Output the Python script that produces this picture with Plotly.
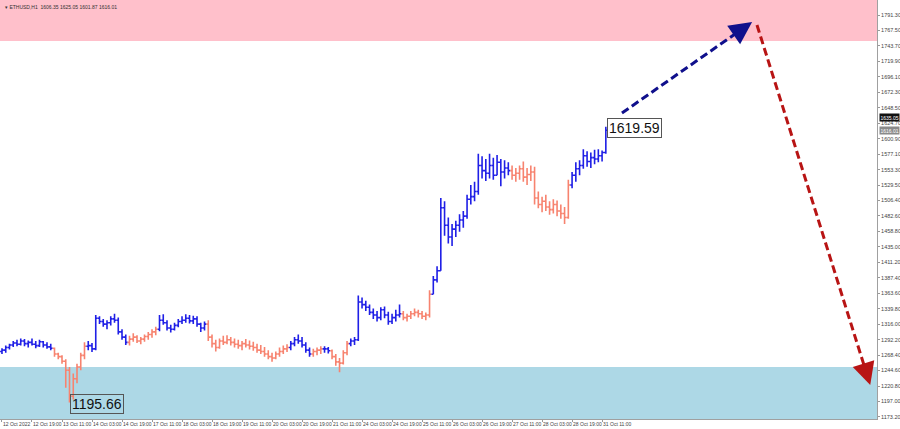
import math
import plotly.graph_objects as go

# ---------------- data ----------------
tick_dates = ["12 Oct 2022", "12 Oct 19:00", "13 Oct 11:00", "14 Oct 03:00", "14 Oct 19:00",
              "17 Oct 11:00", "18 Oct 03:00", "18 Oct 19:00", "19 Oct 11:00", "20 Oct 03:00",
              "20 Oct 19:00", "21 Oct 11:00", "24 Oct 03:00", "24 Oct 19:00", "25 Oct 11:00",
              "26 Oct 03:00", "26 Oct 19:00", "27 Oct 11:00", "28 Oct 03:00", "28 Oct 19:00",
              "31 Oct 11:00"]
bars_per_tick = 8

price_ticks = [1173.20, 1197.00, 1220.80, 1244.60, 1268.40, 1292.20, 1316.00, 1339.80, 1363.60,
               1387.40, 1411.20, 1435.00, 1458.80, 1482.60, 1506.40, 1529.50, 1553.30, 1577.10,
               1600.90, 1624.70, 1648.50, 1672.30, 1696.10, 1719.90, 1743.70, 1767.50, 1791.30]

first_open = 1274
high = [
    1279, 1283, 1286, 1290, 1292, 1294, 1293, 1291, 1294, 1290, 1292, 1290, 1288, 1286,
    1280, 1272, 1268, 1262, 1250, 1240, 1255, 1272, 1288,
    1290, 1287, 1330, 1328, 1324, 1322, 1328, 1332, 1326, 1308, 1300,
    1298, 1302, 1299, 1296, 1300, 1304, 1308, 1312,
    1330, 1331, 1322, 1315, 1318, 1324, 1328, 1331, 1330, 1329, 1328, 1318, 1320,
    1322, 1300, 1292, 1294, 1298, 1299, 1296, 1294, 1292, 1290, 1293, 1291, 1289, 1286, 1284,
    1281, 1276, 1272, 1274, 1280, 1283, 1285,
    1290, 1296, 1300, 1296, 1288, 1280,
    1278, 1280, 1282,
    1282, 1281,
    1277, 1270, 1264, 1276, 1290,
    1294, 1296, 1360, 1357, 1352, 1346, 1340, 1336, 1342, 1343, 1335, 1332, 1338, 1346,
    1336, 1332, 1336, 1340, 1338, 1336, 1334, 1368,
    1390, 1405, 1510, 1505, 1480, 1470, 1475, 1485, 1490, 1515, 1530, 1535, 1578, 1574, 1570,
    1578, 1572, 1576, 1570, 1568, 1565,
    1560, 1556, 1560, 1566, 1556, 1560, 1558, 1520, 1512, 1515, 1505, 1508, 1506, 1500, 1496, 1538,
    1550, 1565, 1568, 1585, 1582, 1580, 1584, 1585, 1583, 1619.59]
low = [
    1270, 1272, 1277, 1281, 1282, 1283, 1282, 1280, 1283, 1279, 1281, 1280, 1278, 1276,
    1266, 1262, 1255, 1218, 1195.66, 1200, 1225, 1245, 1262,
    1276, 1273, 1276, 1316, 1312, 1308, 1314, 1318, 1300, 1292, 1284,
    1283, 1289, 1287, 1285, 1289, 1292, 1295, 1299,
    1305, 1315, 1306, 1303, 1306, 1311, 1316, 1318, 1317, 1316, 1312, 1304, 1306,
    1290, 1280, 1274, 1278, 1284, 1285, 1283, 1280, 1278, 1276, 1280, 1277, 1275, 1272, 1270,
    1266, 1262, 1258, 1262, 1266, 1270, 1273,
    1276, 1282, 1286, 1280, 1272, 1266,
    1266, 1268, 1270,
    1272, 1271,
    1262, 1252, 1242, 1254, 1268,
    1282, 1284, 1290, 1340, 1336, 1330, 1324, 1320, 1322, 1325, 1315, 1316, 1320, 1326,
    1322, 1320, 1324, 1328, 1326, 1324, 1322, 1326,
    1362, 1380, 1398, 1452, 1440, 1436, 1450, 1458, 1464, 1478, 1500, 1505, 1515, 1540, 1536,
    1540, 1538, 1545, 1528, 1540, 1545,
    1538, 1535, 1538, 1535, 1530, 1536, 1500, 1494, 1488, 1490, 1484, 1486, 1482, 1478, 1470, 1478,
    1525, 1535, 1545, 1555, 1558, 1556, 1562, 1565, 1566, 1578]
close = [
    1276, 1280, 1284, 1287, 1285, 1290, 1286, 1288, 1285, 1283, 1289, 1284, 1281, 1279,
    1270, 1266, 1259, 1245, 1205, 1232, 1250, 1268, 1282,
    1283, 1278, 1325, 1320, 1316, 1318, 1324, 1322, 1304, 1296, 1288,
    1293, 1296, 1290, 1293, 1297, 1300, 1304, 1308,
    1322, 1318, 1310, 1308, 1314, 1320, 1322, 1325, 1321, 1324, 1316, 1310, 1316,
    1296, 1286, 1280, 1290, 1288, 1292, 1288, 1285, 1283, 1286, 1284, 1282, 1280, 1276, 1274,
    1270, 1266, 1264, 1270, 1274, 1278, 1280,
    1286, 1292, 1290, 1284, 1276, 1270,
    1274, 1276, 1278,
    1278, 1275,
    1266, 1258, 1256, 1272, 1286,
    1290, 1292, 1350, 1346, 1342, 1334, 1330, 1326, 1338, 1330, 1320, 1326, 1330, 1332,
    1326, 1328, 1332, 1334, 1332, 1328, 1330, 1362,
    1384, 1398, 1495, 1468, 1450, 1462, 1468, 1476, 1482, 1508, 1512, 1520, 1560, 1552, 1548,
    1560, 1545, 1565, 1550, 1556, 1552,
    1545, 1548, 1555, 1542, 1546, 1550, 1510, 1500, 1505, 1496, 1492, 1500, 1490, 1486, 1480, 1530,
    1545, 1555, 1560, 1575, 1566, 1572, 1570, 1575, 1580, 1614]

# bar index where each wave segment starts (colours alternate blue / salmon)
wave_starts = [0, 14, 23, 34, 42, 55, 77, 83, 86, 88, 93, 107, 115, 136, 152]

resistance_zone = (1751.3, 1814.4)
support_zone = (1170.1, 1250.1)

forecast_up_x = [165.3, 200.0]
forecast_up_y = [1640.6, 1780.5]
forecast_down_x = [201.3, 231.5]
forecast_down_y = [1775.9, 1222.4]

mark_labels = ["1619.59", "1195.66"]
mark_x = [161.3, 18.1]
mark_y = [1618.0, 1193.2]

header = "ETHUSD,H1  1606.35 1625.05 1601.87 1616.01"
bid_price = ("1635.05", 1633.7)
last_price = ("1616.01", 1613.4)

# ---------------- styling ----------------
W, H = 900, 429
M = dict(l=0, r=23, t=0, b=10)
x_range = [-0.53, 233.3]
y_range = [1170.1, 1814.4]
BLUE = "#1f1fe6"
SALMON = "#f7836f"
colors = [BLUE, SALMON]

opens = [first_open] + close[:-1]
n = len(close)
fig = go.Figure()

bounds = wave_starts + [n]
for k in range(len(wave_starts)):
    a, b = bounds[k], bounds[k + 1]
    c = colors[k % 2]
    fig.add_trace(go.Ohlc(
        x=list(range(a, b)), open=opens[a:b], high=high[a:b], low=low[a:b], close=close[a:b],
        increasing=dict(line=dict(color=c, width=1.6)),
        decreasing=dict(line=dict(color=c, width=1.6)),
        tickwidth=0.5, showlegend=False, hoverinfo="skip"))

# zones
fig.add_shape(type="rect", xref="paper", x0=0, x1=1, y0=resistance_zone[0], y1=resistance_zone[1],
              fillcolor="#ffc0cb", line=dict(width=0), layer="below")
fig.add_shape(type="rect", xref="paper", x0=0, x1=1, y0=support_zone[0], y1=support_zone[1],
              fillcolor="#add8e6", line=dict(width=0), layer="below")

# forecast arrows
plot_w = W - M["l"] - M["r"]
plot_h = H - M["t"] - M["b"]
px_x = plot_w / (x_range[1] - x_range[0])
px_y = plot_h / (y_range[1] - y_range[0])


def arrow(xs, ys, color):
    dxp = (xs[1] - xs[0]) * px_x
    dyp = (ys[1] - ys[0]) * px_y
    L = math.hypot(dxp, dyp)
    back = 14.0
    bx = xs[1] - dxp / L * back / px_x
    by = ys[1] - dyp / L * back / px_y
    fig.add_trace(go.Scatter(x=[xs[0], bx], y=[ys[0], by], mode="lines",
                             line=dict(color=color, width=3, dash="8px,4px"),
                             showlegend=False, hoverinfo="skip"))
    fig.add_annotation(x=xs[1], y=ys[1], ax=bx, ay=by, axref="x", ayref="y",
                       xref="x", yref="y", text="", showarrow=True, arrowhead=2,
                       arrowsize=1.5, arrowwidth=3, arrowcolor=color)


arrow(forecast_up_x, forecast_up_y, "#10108c")
arrow(forecast_down_x, forecast_down_y, "#b81414")

for t, xv, yv in zip(mark_labels, mark_x, mark_y):
    fig.add_annotation(x=xv, y=yv, text=t, showarrow=False, xanchor="left", yanchor="middle",
                       font=dict(family="Liberation Sans, Arial", size=14, color="#111"),
                       bordercolor="#555", borderwidth=1, borderpad=1)

fig.add_annotation(xref="paper", yref="paper", x=0, y=1, xanchor="left", yanchor="top",
                   xshift=3, yshift=-2, text="▾ " + header, showarrow=False,
                   font=dict(family="Liberation Sans, Arial", size=5, color="#333"))

for (t, yv), bg in ((bid_price, "#111"), (last_price, "#8a8a8a")):
    fig.add_annotation(xref="paper", yref="y", x=1, y=yv, xanchor="left", yanchor="middle",
                       xshift=2, text=t, showarrow=False, bgcolor=bg, borderpad=0.5,
                       font=dict(family="Liberation Sans, Arial", size=5, color="white"))

fig.update_layout(
    width=W, height=H, margin=M, paper_bgcolor="white", plot_bgcolor="white",
    showlegend=False,
    xaxis=dict(range=x_range, rangeslider=dict(visible=False), showgrid=False, zeroline=False,
               tickvals=[i * bars_per_tick for i in range(len(tick_dates))], ticktext=tick_dates,
               ticklabelposition="outside right", tickangle=0, ticks="outside", ticklen=2,
               tickcolor="#999", ticklabelstandoff=0,
               showline=True, linecolor="#a0a0a0", linewidth=1, automargin=False,
               tickfont=dict(family="Liberation Sans, Arial", size=5, color="#444")),
    yaxis=dict(range=y_range, side="right", showgrid=False, zeroline=False,
               tickvals=price_ticks, ticktext=[f"{v:.2f}" for v in price_ticks],
               ticks="outside", ticklen=2, tickcolor="#999",
               showline=True, linecolor="#a0a0a0", linewidth=1, automargin=False,
               tickfont=dict(family="Liberation Sans, Arial", size=5.5, color="#444")),
)

fig.write_html("out.html", config={"displayModeBar": False},
               post_script="document.body.style.margin='0';document.body.style.overflow='hidden';")
